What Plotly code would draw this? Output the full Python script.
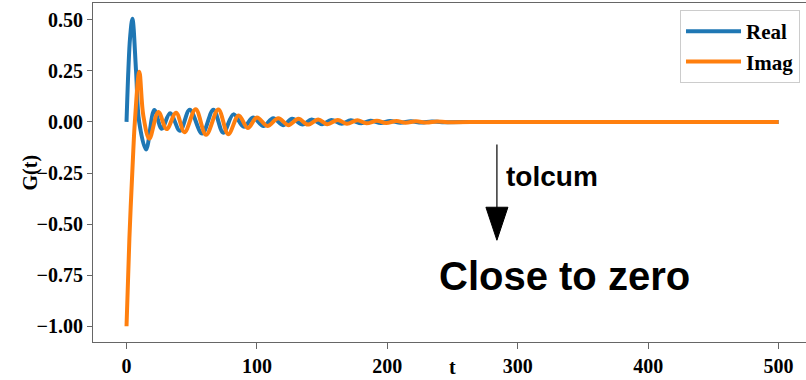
import plotly.graph_objects as go

# Correlation function G(t): turning points of the real and imaginary parts
real_t = [0, 1.4, 2.7, 4.5, 7.3, 9.7, 15, 21.3, 27, 33.4, 41, 48.5, 58, 66.6, 74.2,
          82, 90, 97, 105, 112.5, 120, 127, 135, 142, 150, 157, 165, 172, 180, 187,
          195, 202, 210, 218, 226, 234, 242, 270, 300, 400, 500]
real_g = [0.0, 0.25, 0.41, 0.505, 0.25, 0.0, -0.135, 0.058, -0.033, 0.043, -0.043,
          0.06, -0.057, 0.06, -0.053, 0.037, -0.024, 0.022, -0.02, 0.018, -0.016,
          0.015, -0.013, 0.012, -0.011, 0.01, -0.009, 0.008, -0.007, 0.006, -0.005,
          0.004, -0.004, 0.003, -0.003, 0.002, -0.001, 0.0, 0.0, 0.0, 0.0]

imag_t = [0, 2.2, 5.2, 6.4, 9.8, 12.9, 17.5, 24.4, 30.8, 38, 44.5, 53, 61, 70.4, 78,
          86, 93, 100, 108, 116.4, 124, 131.8, 139, 147, 154, 162, 169, 177, 184, 192,
          199, 207, 214, 222, 230, 238, 246, 275, 300, 400, 500]
imag_g = [-1.0, -0.57, -0.14, 0.0, 0.246, 0.03, -0.082, 0.049, -0.035, 0.045, -0.05,
          0.062, -0.063, 0.061, -0.06, 0.032, -0.03, 0.022, -0.02, 0.018, -0.016,
          0.015, -0.013, 0.012, -0.011, 0.01, -0.009, 0.008, -0.007, 0.006, -0.005,
          0.004, -0.004, 0.003, -0.003, 0.002, -0.001, 0.0, 0.0, 0.0, 0.0]

x_ticks = [0, 100, 200, 300, 400, 500]
y_ticks = [-1.0, -0.75, -0.5, -0.25, 0.0, 0.25, 0.5]
y_tick_text = ["\u22121.00", "\u22120.75", "\u22120.50", "\u22120.25", "0.00", "0.25", "0.50"]

# arrow pointing toward the "Close to zero" note
arrow_x = 284
arrow_top, arrow_base, arrow_tip = -0.11, -0.42, -0.579

SERIF = "Liberation Serif"
SANS = "Liberation Sans"
SPINE = "#666666"

fig = go.Figure()
fig.add_trace(go.Scatter(x=real_t, y=real_g, mode="lines", name="<b>Real</b>",
                         line=dict(color="#1f77b4", width=4, shape="spline", smoothing=1)))
fig.add_trace(go.Scatter(x=imag_t, y=imag_g, mode="lines", name="<b>Imag</b>",
                         line=dict(color="#ff7f0e", width=4, shape="spline", smoothing=1)))

fig.add_shape(type="line", xref="x", yref="y", x0=arrow_x, x1=arrow_x,
              y0=arrow_top, y1=arrow_base, line=dict(color="black", width=1.2))
fig.add_shape(type="path", xref="x", yref="y", xsizemode="pixel", ysizemode="pixel",
              xanchor=arrow_x, yanchor=arrow_tip, path="M-11,33 L11,33 L0,0 Z",
              fillcolor="black", line=dict(color="black", width=1))

fig.add_annotation(x=289.5, y=-0.265, xref="x", yref="y", text="<b>tolcum</b>",
                   showarrow=False, xanchor="left", yanchor="middle",
                   font=dict(family=SANS, size=28, color="black"))
fig.add_annotation(x=238.3, y=-0.752, xref="x", yref="y", text="<b>Close to zero</b>",
                   showarrow=False, xanchor="left", yanchor="middle",
                   font=dict(family=SANS, size=40, color="black"))

# axis labels
fig.add_annotation(x=0, y=0.5, xref="paper", yref="paper", text="<b>G(t)</b>",
                   showarrow=False, textangle=-90, xanchor="center", yanchor="middle",
                   xshift=-63,
                   font=dict(family=SERIF, size=20, color="black"))
fig.add_annotation(x=250, y=0, xref="x", yref="paper", text="<b>t</b>",
                   showarrow=False, xanchor="center", yanchor="bottom", yshift=-38,
                   font=dict(family=SERIF, size=20, color="black"))

fig.update_layout(
    width=806, height=380,
    margin=dict(l=93, r=0, t=3, b=38),
    paper_bgcolor="white", plot_bgcolor="white",
    showlegend=True,
    legend=dict(x=0.9916, y=0.979, xanchor="right", yanchor="top",
                bgcolor="rgba(255,255,255,0.8)", bordercolor="#cccccc", borderwidth=1,
                itemwidth=55,
                font=dict(family=SERIF, size=21, color="black")),
    xaxis=dict(range=[-25.7, 521], tickvals=x_ticks, showgrid=False, zeroline=False,
               showline=True, linecolor=SPINE, linewidth=1, mirror=True,
               ticks="outside", ticklen=6, tickcolor=SPINE, tickwidth=1,
               tickfont=dict(family=SERIF, size=20, color="black", weight="bold")),
    yaxis=dict(range=[-1.077, 0.582], tickvals=y_ticks, ticktext=y_tick_text,
               showgrid=False, zeroline=False,
               showline=True, linecolor=SPINE, linewidth=1,
               ticks="outside", ticklen=5, tickcolor=SPINE, tickwidth=1,
               tickfont=dict(family=SERIF, size=20, color="black", weight="bold")),
)

fig.write_html("out.html")
